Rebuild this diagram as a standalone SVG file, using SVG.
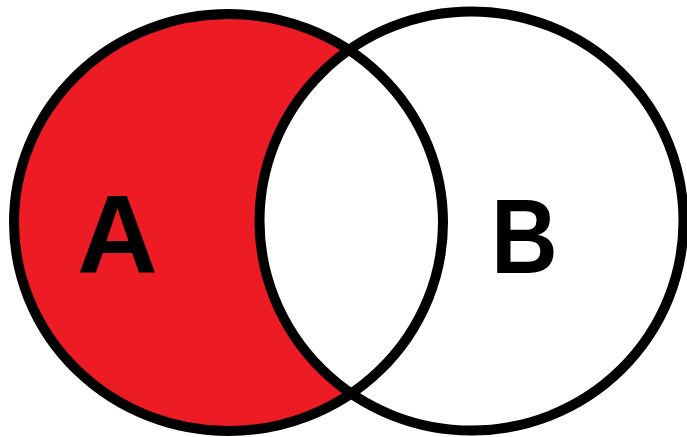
<svg xmlns="http://www.w3.org/2000/svg" width="687" height="437" viewBox="0 0 687 437">
<style>
.ring{fill:none;stroke:#000;stroke-width:10}
.lbl{font-family:"Liberation Sans",Arial,sans-serif;font-weight:bold;fill:#000}
</style>
<rect width="687" height="437" fill="#fff"/>
<g id="setA">
<ellipse cx="228.5" cy="222.5" rx="214.5" ry="208.5" fill="#ED1C24"/>
</g>
<g id="setB">
<ellipse cx="471.5" cy="221" rx="212" ry="209.5" fill="#fff"/>
</g>
<g id="outlines">
<ellipse class="ring" cx="228.5" cy="222.5" rx="214.5" ry="208.5"/>
<ellipse class="ring" cx="471.5" cy="221" rx="212" ry="209.5"/>
</g>
<text class="lbl" x="77" y="273" font-size="112">A</text>
<text class="lbl" transform="translate(491 273) scale(0.88 1)" x="0" y="0" font-size="105">B</text>
</svg>
